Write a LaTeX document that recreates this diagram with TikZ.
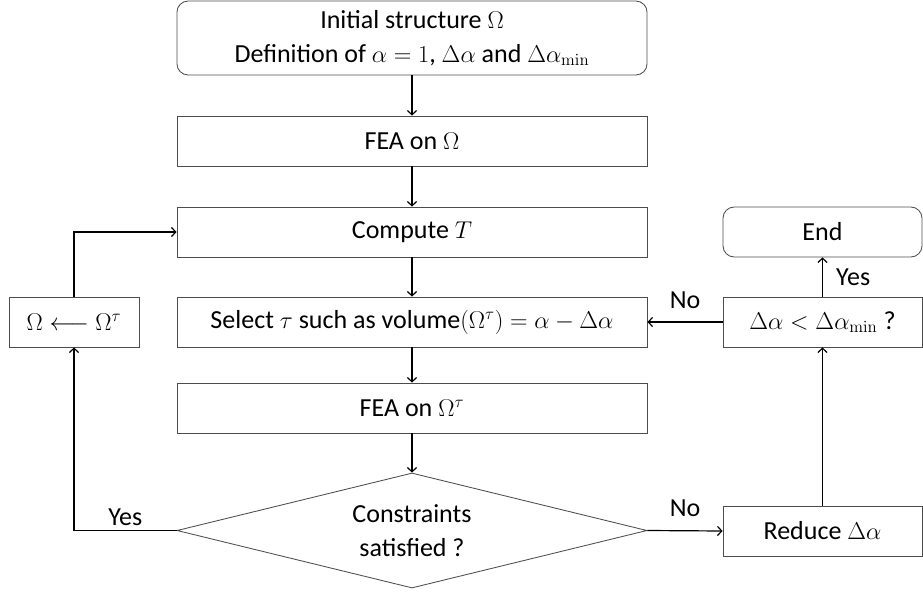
\documentclass[tikz,border=0pt]{standalone}
\usepackage{amsmath}
\usepackage[no-math]{fontspec}
\setmainfont{Carlito}
\usetikzlibrary{shapes.geometric, arrows.meta}

\begin{document}
\begin{tikzpicture}[x=0.025cm,y=-0.025cm,
  font=\fontsize{18.5}{24}\selectfont,
  box/.style={draw=black!70,line width=0.6pt,rectangle,minimum height=1.25cm,inner sep=2pt},
  rbox/.style={box,rounded corners=8pt},
  dec/.style={draw=black!70,line width=0.6pt,diamond,shape aspect=4.09,inner sep=0pt,minimum width=11.75cm,minimum height=2.875cm,align=center},
  arr/.style={line width=0.85pt,-{Straight Barb[length=3pt,width=6.5pt]}}]
\useasboundingbox (0,0) rectangle (923,593);

\node[rbox,minimum width=11.75cm,minimum height=1.85cm,align=center](init) at (412,38)
  {Initial structure $\Omega$\\ Definition of $\alpha = 1$, $\Delta\alpha$ and $\Delta\alpha_{\min}$};
\node[box,minimum width=11.75cm](fea) at (412,141) {FEA on $\Omega$};
\node[box,minimum width=11.75cm](comp) at (412,232) {Compute $T$};
\node[box,minimum width=11.75cm](sel) at (412,322) {Select $\tau$ such as volume$(\Omega^{\tau}) = \alpha - \Delta\alpha$};
\node[box,minimum width=11.75cm](fea2) at (412,408) {FEA on $\Omega^{\tau}$};
\node[dec](cons) at (412,530.5) {Constraints\\ satisfied ?};
\node[box,minimum width=3.25cm](upd) at (74,322) {$\Omega \longleftarrow \Omega^{\tau}$};
\node[rbox,minimum width=4.975cm](stop) at (822.5,232) {End};
\node[box,minimum width=4.975cm](test) at (822.5,322) {$\Delta\alpha < \Delta\alpha_{\min}$ ?};
\node[box,minimum width=4.975cm](red) at (822.5,531) {Reduce $\Delta\alpha$};

\draw[arr] (init) -- (fea);
\draw[arr] (fea) -- (comp);
\draw[arr] (comp) -- (sel);
\draw[arr] (sel) -- (fea2);
\draw[arr] (fea2) -- (cons);
\draw[arr] (cons.west) -| node[pos=0.25,above]{Yes} (upd.south);
\draw[arr] (upd.north) |- (comp.west);
\draw[arr] (cons.east) -- node[above=6pt]{No} (red.west);
\draw[arr] (red.north) -- (test.south);
\draw[arr] (test.west) -- node[above=6pt]{No} (sel.east);
\draw[arr] (test.north) -- node[right=6pt]{Yes} (stop.south);
\end{tikzpicture}
\end{document}
